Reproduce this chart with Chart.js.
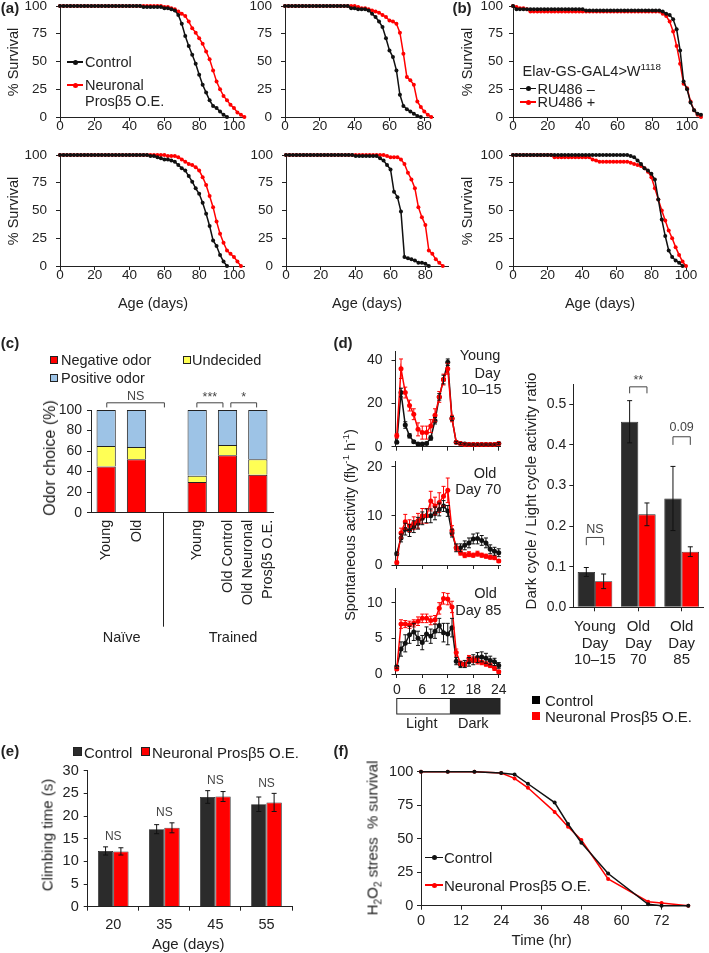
<!DOCTYPE html>
<html>
<head>
<meta charset="utf-8">
<title>Neuronal Prosβ5 figure</title>
<script src="https://cdn.jsdelivr.net/npm/chart.js@4.4.1/dist/chart.umd.min.js"></script>
<style>
  body { margin: 0; background: #fff; }
  #fig { position: relative; width: 709px; height: 953px; overflow: hidden;
         font-family: "Liberation Sans", Arial, sans-serif; color: #222; }
  #fig canvas { position: absolute; }
  .t { position: absolute; white-space: nowrap; line-height: 1; }
  .t sup, .t sub { font-size: 68%; line-height: 0; }
  .mk { position: absolute; }
</style>
</head>
<body>
<div id="fig"></div>
<script>
// ---------- data ----------

// (a) top left: lifespan, control vs neuronal Prosβ5 O.E. (days, % survival)
const a1Days = [0,2,4,6,8,10,12,14,16,18,20,22,24,26,28,30,32,34,36,38,40,42,44,46,48,50,52,54,56,58,
  60,62,64,66,68,70,72,74,76,78,80,82,84,86,88,90,92,94,96,98,100,102,104,106];
const a1Ctrl = [100,100,100,100,100,100,100,100,100,100,100,100,100,100,100,100,100,100,100,100,100,100,100,100,
  99,99,99,99,99,99,98,98,97,96,92,84,73,64,56,48,38,29,22,15,10,8,5,2,0];
const a1Oe = [100,100,100,100,100,100,100,100,100,100,100,100,100,100,100,100,100,100,100,100,
  100,100,100,100,100,100,100,100,100,100,
  99,99,98,97,95,93,91,86,80,76,71,66,59,52,42,32,25,19,15,11,8,4,2,0];

// (a) top middle
const a2Days = [0,2,4,6,8,10,12,14,16,18,20,22,24,26,28,30,32,34,36,38,40,42,44,46,48,50,52,54,56,58,
  60,62,64,66,68,70,72,74,76,78,80,82,84];
const a2Ctrl = [100,100,100,100,100,100,100,100,100,100,100,100,100,100,100,100,100,100,100,
  98,98,97,97,97,96,93,90,86,81,71,60,54,42,20,10,7,5,3,1,0];
const a2Oe = [100,100,100,100,100,100,100,100,100,100,100,100,100,100,100,100,100,100,100,100,100,
  99,98,98,97,96,95,94,92,90,87,86,84,76,57,36,33,29,14,9,5,2,0];

// (b) top: Elav-GS-GAL4>W1118, RU486 - / +
const bDays = [0,2,4,6,8,10,12,14,16,18,20,22,24,26,28,30,32,34,36,38,40,42,44,46,48,50,52,54,56,58,
  60,62,64,66,68,70,72,74,76,78,80,82,84,86,88,90,92,94,96,98,100,102,104,106,108];
const bNoRu = [100,97,97,97,97,97,97,97,97,97,97,97,97,97,97,97,97,97,97,97,97,
  96,96,96,96,96,96,96,96,96,96,96,96,96,96,96,96,96,96,96,96,96,96,
  95,93,92,88,79,60,32,25,13,6,3,2];
const bRu = [100,99,98,98,97,95,95,95,95,95,95,95,95,95,95,95,95,95,95,95,95,95,95,95,95,95,95,95,95,95,
  95,95,95,95,95,95,95,95,95,95,95,95,
  95,93,91,86,77,64,48,30,26,14,6,2,0];

// (a) bottom left
const a3Days = [0,2,4,6,8,10,12,14,16,18,20,22,24,26,28,30,32,34,36,38,40,42,44,46,48,50,52,54,56,58,
  60,62,64,66,68,70,72,74,76,78,80,82,84,86,88,90,92,94,96,98,100,102,104];
const a3Ctrl = [100,100,100,100,100,100,100,100,100,100,100,100,100,100,100,100,100,100,100,100,
  100,100,100,100,100,100,
  99,99,98,97,96,96,95,94,91,88,86,81,76,70,65,57,47,36,23,18,10,4,0];
const a3Oe = [100,100,100,100,100,100,100,100,100,100,100,100,100,100,100,100,100,100,100,100,
  100,100,100,100,100,100,100,100,100,100,100,
  99,99,99,98,96,94,92,91,89,86,80,73,63,53,40,29,21,14,11,8,4,0];

// (a) bottom middle
const a4Days = [0,2,4,6,8,10,12,14,16,18,20,22,24,26,28,30,32,34,36,38,40,42,44,46,48,50,52,54,56,58,
  60,62,64,66,68,70,72,74,76,78,80,82,84,86,88,90,92];
const a4Ctrl = [100,100,100,100,100,100,100,100,100,100,100,100,100,100,100,100,100,100,100,100,
  99,99,99,99,99,99,99,
  97,95,91,87,67,62,49,8,7,6,5,3,3,2,0];
const a4Oe = [100,100,100,100,100,100,100,100,100,100,100,100,100,100,100,100,100,100,100,100,
  100,100,100,100,100,100,100,100,100,
  99,98,98,98,96,92,84,78,70,53,44,37,14,11,6,3,0];

// (b) bottom
const b2Days = [0,2,4,6,8,10,12,14,16,18,20,22,24,26,28,30,32,34,36,38,40,42,44,46,48,50,52,54,56,58,
  60,62,64,66,68,70,72,74,76,78,80,82,84,86,88,90,92,94,96,98,100];
const b2NoRu = [100,100,100,100,100,100,100,100,100,100,100,100,100,100,100,100,100,100,100,100,
  100,100,100,100,100,100,100,100,100,100,100,100,100,100,
  99,98,95,92,88,86,83,78,60,42,27,14,8,5,3,0];
const b2Ru = [100,100,100,100,100,100,100,100,100,100,100,100,
  98,98,98,98,98,98,98,98,98,98,98,96,95,94,94,94,94,94,94,94,94,94,
  93,92,91,90,88,85,80,70,60,50,41,32,25,17,10,4,0];

// (c) odor choice (%)
const cCats = ['Young', 'Old', '', 'Young', 'Old Control', ['Old Neuronal', 'Prosβ5 O.E.']];
const cNegative = [45, 52, null, 30, 56, 37];
const cUndecided = [20, 12, null, 6, 10, 15];
const cPositive = [35, 36, null, 64, 34, 48];

// (d) spontaneous activity per hour of the day (fly^-1 h^-1)
const dHours = [0,1,2,3,4,5,6,7,8,9,10,11,12,13,14,15,16,17,18,19,20,21,22,23,24];
const dYoungCtrl = [2,25,10,5,2.3,1.2,1.2,1.5,4,12,23,31,39,13,2,1.5,1.2,1,1,1,1,1,1,1,1.5];
const dYoungCtrlErr = [0.5,2,1.5,1,0.5,0.4,0.4,0.5,1,1.5,1.5,2,1.5,1,0.5,0.4,0.4,0.3,0.3,0.3,0.3,0.3,0.3,0.3,0.4];
const dYoungOe = [5,36,25,19,15,8,6.5,6.5,9.5,14.5,23,31,36,13,2,1.5,1,1,1,1,1,1,1,1,1.5];
const dYoungOeErr = [1,4.5,2.5,2.5,2.5,3,3,3,3,3,2.5,2.5,2.5,1.5,0.5,0.4,0.3,0.3,0.3,0.3,0.3,0.3,0.3,0.3,0.4];
const dOld70Ctrl = [2.3,5.5,7.3,7,7.8,8.5,9.5,10,10,10.5,11.3,12,11,6.5,3.5,3.5,4,4.5,5.3,5.4,5,4.5,3.2,2.8,2.5];
const dOld70CtrlErr = [0.3,0.8,1.2,1.2,1.2,1.2,1.3,1.4,1.4,1.3,1.3,1.1,1.1,0.8,0.8,0.8,0.9,1,1,1.1,1,1,0.9,0.8,0.8];
const dOld70Oe = [0.5,6.5,8.8,8,8.5,9,10,10,13,12,12.7,14,15.2,7,3.5,2.5,2,2.2,2,2.3,2,1.8,1.6,1.5,0.8];
const dOld70OeErr = [0.3,1,1.5,1.2,1.3,1.5,1.5,1.5,2,1.8,2,2,2.5,1,0.6,0.5,0.5,0.5,0.4,0.5,0.4,0.4,0.4,0.4,0.3];
const dOld85Ctrl = [1,3.5,4.3,5.5,5.9,5,4.4,5.6,5.3,6,6.8,5.8,5.6,6.5,1.8,1.3,1.4,1.7,2,2.3,2.4,2.2,1.9,1.7,1.2];
const dOld85CtrlErr = [0.2,1,1.2,1.2,1.2,1,1,1,1,1,1,1.3,1.5,1.3,0.5,0.4,0.5,0.6,0.7,0.7,0.7,0.7,0.6,0.5,0.4];
const dOld85Oe = [0.7,7,7,6.9,7.1,7.4,7.8,7.8,7.5,7.6,9.2,10.6,10.5,9.4,3,1.5,1.3,2.2,2,1.8,1.6,1.4,1.2,0.8,0.3];
const dOld85OeErr = [0.2,0.6,0.5,0.5,0.5,0.6,0.6,0.6,0.6,0.6,0.8,0.8,0.8,0.8,0.5,0.3,0.3,0.4,0.4,0.4,0.3,0.3,0.3,0.3,0.2];

// (d) dark / light activity ratio
const dRatioCats = [['Young', 'Day', '10–15'], ['Old', 'Day', '70'], ['Old', 'Day', '85']];
const dRatioCtrl = [0.087, 0.457, 0.268];
const dRatioCtrlErr = [0.011, 0.052, 0.079];
const dRatioOe = [0.064, 0.229, 0.137];
const dRatioOeErr = [0.018, 0.028, 0.012];

// (e) climbing time (s)
const eAges = ['20', '35', '45', '55'];
const eCtrl = [12.3, 17.1, 24.2, 22.6];
const eCtrlErr = [0.9, 1.0, 1.4, 1.6];
const eOe = [12.2, 17.4, 24.3, 23.0];
const eOeErr = [0.8, 1.1, 1.1, 2.0];

// (f) H2O2 stress survival
const fHours = [0, 8, 16, 24, 28, 32, 40, 44, 48, 56, 68, 72, 80];
const fCtrl = [100, 100, 100, 99, 98, 91, 77, 61, 47, 24, 1, 0, 0];
const fOe = [100, 100, 100, 99, 95, 88, 70, 59, 49, 20, 3, 2, 0];

// ---------- drawing ----------
const RED = '#ff0000', BLK = '#111111', DARK = '#2b2b2b', YEL = '#ffff55', BLUE = '#9dc3e6';
const FAMILY = '"Liberation Sans", Arial, sans-serif';
Chart.defaults.font.family = FAMILY;
Chart.defaults.color = '#222';

const fig = document.getElementById('fig');

function fixRange(min, max, step) {
  return s => {
    s.min = min; s.max = max;
    s.ticks = s.ticks.filter(t => t.value >= min - 1e-9 && t.value <= max + 1e-9 &&
      Math.abs(t.value / step - Math.round(t.value / step)) < 1e-6);
  };
}
function noPad(s) { s.paddingLeft = 0; s.paddingRight = 0; s.paddingTop = 0; s.paddingBottom = 0; }

function axis(o) {
  const a = Object.assign({}, o);
  a.border = Object.assign({ display: true, color: '#222', width: 1 }, o.border);
  a.grid = Object.assign({ drawOnChartArea: false, drawTicks: true, tickLength: 4, color: '#222', lineWidth: 1 }, o.grid);
  a.ticks = Object.assign({ color: '#222' }, o.ticks);
  return a;
}
function lin(min, max, step, size, pad, extra, tickExtra) {
  return axis(Object.assign({
    type: 'linear', min, max, afterBuildTicks: fixRange(min, max, step),
    ticks: Object.assign({ stepSize: step, includeBounds: false, font: { size }, padding: pad }, tickExtra),
  }, extra));
}

// put a chart so that its plot area lands on rect = [x0, y0, x1, y1] of the page
function chartAt(rect, m, cfg) {
  const [x0, y0, x1, y1] = rect;
  const left = Math.floor(x0 - m[3]), top = Math.floor(y0 - m[0]);
  const right = Math.ceil(x1 + m[1]), bottom = Math.ceil(y1 + m[2]);
  const cv = document.createElement('canvas');
  cv.width = right - left; cv.height = bottom - top;
  cv.style.left = left + 'px'; cv.style.top = top + 'px';
  fig.appendChild(cv);
  const o = cfg.options;
  o.responsive = false; o.animation = false; o.devicePixelRatio = 1;
  o.layout = { padding: { top: y0 - top, right: right - x1, bottom: 0, left: 0 } };
  o.plugins = Object.assign({ legend: { display: false }, tooltip: { enabled: false } }, o.plugins || {});
  o.scales.x.afterFit = s => { s.height = bottom - y1; noPad(s); };
  o.scales.y.afterFit = s => { s.width = x0 - left; noPad(s); };
  return new Chart(cv, cfg);
}

function line(xs, ys, color, r, errs) {
  return {
    data: ys.map((y, i) => ({ x: xs[i], y })), showLine: true,
    borderColor: color, backgroundColor: color, borderWidth: 1.5,
    pointRadius: r, pointHoverRadius: r, pointBorderWidth: 0, clip: false,
    errors: errs, errorColor: color, cap: 2,
  };
}
function bar(vals, color, errs) {
  return { data: vals, backgroundColor: color, borderColor: '#222', borderWidth: 0.8,
           errors: errs, errorColor: '#111', cap: 2.5 };
}

const errorBars = {
  id: 'errorBars',
  afterDatasetsDraw(chart) {
    const { ctx } = chart, y = chart.scales.y;
    chart.data.datasets.forEach((ds, i) => {
      if (!ds.errors) return;
      const meta = chart.getDatasetMeta(i);
      ctx.save();
      ctx.strokeStyle = ds.errorColor; ctx.lineWidth = 1;
      meta.data.forEach((el, j) => {
        const v = ds.data[j], e = ds.errors[j];
        const val = typeof v === 'object' ? v.y : v;
        if (val == null || !e) return;
        const t = y.getPixelForValue(val + e), b = y.getPixelForValue(Math.max(val - e, 0));
        ctx.beginPath();
        ctx.moveTo(el.x, t); ctx.lineTo(el.x, b);
        ctx.moveTo(el.x - ds.cap, t); ctx.lineTo(el.x + ds.cap, t);
        ctx.moveTo(el.x - ds.cap, b); ctx.lineTo(el.x + ds.cap, b);
        ctx.stroke();
      });
      ctx.restore();
    });
  }
};

// significance brackets / labels; a, b are category positions or g = bar group
function brackets(items, size) {
  return {
    id: 'brackets',
    afterDatasetsDraw(chart) {
      const { ctx } = chart, x = chart.scales.x, y = chart.scales.y;
      ctx.save();
      ctx.strokeStyle = '#444'; ctx.fillStyle = '#444'; ctx.lineWidth = 1;
      ctx.font = size + 'px ' + FAMILY;
      ctx.textAlign = 'center'; ctx.textBaseline = 'middle';
      items.forEach(b => {
        let xa, xb;
        if (b.g !== undefined) {
          xa = chart.getDatasetMeta(0).data[b.g].x; xb = chart.getDatasetMeta(1).data[b.g].x;
        } else { xa = x.getPixelForValue(b.a); xb = x.getPixelForValue(b.b); }
        if (b.y !== undefined) {
          const yy = y.getPixelForValue(b.y), yl = y.getPixelForValue(b.leg);
          ctx.beginPath();
          ctx.moveTo(xa, yl); ctx.lineTo(xa, yy); ctx.lineTo(xb, yy); ctx.lineTo(xb, yl);
          ctx.stroke();
        }
        ctx.fillText(b.text, (xa + xb) / 2, y.getPixelForValue(b.ty));
      });
      ctx.restore();
    }
  };
}

// vertical category labels for (c) plus the naive / trained divider
const cAxisDecor = {
  id: 'cAxisDecor',
  afterDraw(chart) {
    const { ctx } = chart, x = chart.scales.x;
    ctx.save();
    ctx.fillStyle = '#222';
    ctx.font = '14.5px ' + FAMILY;
    ctx.textAlign = 'right'; ctx.textBaseline = 'middle';
    chart.data.labels.forEach((lab, i) => {
      const lines = [].concat(lab);
      lines.forEach((t, k) => {
        ctx.save();
        ctx.translate(x.getPixelForValue(i) + (k - (lines.length - 1) / 2) * 20, x.top + 7);
        ctx.rotate(-Math.PI / 2);
        ctx.fillText(t, 0, 0);
        ctx.restore();
      });
    });
    const px = Math.round(x.getPixelForValue(1.88)) + 0.5;
    ctx.strokeStyle = '#222'; ctx.lineWidth = 1;
    ctx.beginPath(); ctx.moveTo(px, x.top); ctx.lineTo(px, x.top + 114); ctx.stroke();
    ctx.restore();
  }
};

// light / dark bar under the day-85 activity plot
const lightDark = {
  id: 'lightDark',
  afterDraw(chart) {
    const { ctx } = chart, x = chart.scales.x;
    const a = x.getPixelForValue(0), m = x.getPixelForValue(12.5), b = x.getPixelForValue(24.3);
    const top = x.top + 24.5, h = 15.5;
    ctx.save();
    ctx.fillStyle = '#262626'; ctx.fillRect(m, top, b - m, h);
    ctx.strokeStyle = '#222'; ctx.lineWidth = 1;
    ctx.strokeRect(a, top, b - a, h);
    ctx.restore();
  }
};

function txt(html, x, y, o = {}) {
  const d = document.createElement('div');
  d.className = 't';
  d.innerHTML = html;
  d.style.left = x + 'px'; d.style.top = y + 'px';
  d.style.fontSize = (o.size || 15) + 'px';
  if (o.bold) d.style.fontWeight = 'bold';
  const tx = o.align === 'l' ? '0' : o.align === 'r' ? '-100%' : '-50%';
  d.style.transform = 'translate(' + tx + ',-50%)' + (o.rot ? ' rotate(-90deg)' : '');
  fig.appendChild(d);
}
function lineKey(x0, x1, y, color) {
  const l = document.createElement('div'); l.className = 'mk';
  Object.assign(l.style, { left: x0 + 'px', top: (y - 0.75) + 'px', width: (x1 - x0) + 'px', height: '1.5px', background: color });
  const p = document.createElement('div'); p.className = 'mk';
  Object.assign(p.style, { left: ((x0 + x1) / 2 - 2.5) + 'px', top: (y - 2.5) + 'px', width: '5px', height: '5px', borderRadius: '50%', background: color });
  fig.appendChild(l); fig.appendChild(p);
}
function boxKey(x, y, s, color, border) {
  const b = document.createElement('div'); b.className = 'mk';
  Object.assign(b.style, { left: x + 'px', top: (y - s / 2) + 'px', width: s + 'px', height: s + 'px',
    background: color, boxSizing: 'border-box', border: border ? '1px solid #222' : 'none' });
  fig.appendChild(b);
}

// ----- (a) and (b) survival curves -----
function survival(rect, days, ctrl, oe, xmax, ypad) {
  return chartAt(rect, [8, 14, 40, 50], {
    type: 'scatter',
    data: { datasets: [line(days, ctrl, BLK, 2), line(days, oe, RED, 2)] },
    options: { scales: {
      x: lin(0, xmax, 20, 13.5, -3),
      y: lin(0, 100, 25, 13.5, ypad),
    } },
  });
}
survival([60, 6, 244.4, 117], a1Days, a1Ctrl, a1Oe, 106, 9);
survival([285, 6, 433, 117], a2Days, a2Ctrl, a2Oe, 85, 9);
survival([513, 6, 701, 117], bDays, bNoRu, bRu, 108, 6);
survival([60, 155, 244.4, 266], a3Days, a3Ctrl, a3Oe, 106, 9);
survival([286, 155, 448, 266], a4Days, a4Ctrl, a4Oe, 93, 9);
survival([513, 155, 686, 266], b2Days, b2NoRu, b2Ru, 100, 6);

txt('(a)', 10, 7, { bold: true });
txt('(b)', 462, 7, { bold: true });
[[13, 61.5], [13, 210.5], [467, 61.5], [467, 210.5]].forEach(p => txt('% Survival', p[0], p[1], { rot: true, size: 14.5 }));
[153, 367, 600].forEach(x => txt('Age (days)', x, 303, { size: 14.5 }));
lineKey(67, 83, 62, BLK); txt('Control', 85, 62, { align: 'l', size: 14.5 });
lineKey(67, 83, 85, RED); txt('Neuronal', 85, 85, { align: 'l', size: 14.5 });
txt('Prosβ5 O.E.', 85, 101, { align: 'l', size: 14.5 });
txt('Elav-GS-GAL4&gt;W<sup>1118</sup>', 522.5, 71, { align: 'l', size: 14.5 });
lineKey(520, 536, 88.5, BLK); txt('RU486 –', 537.5, 88.5, { align: 'l', size: 14.5 });
lineKey(520, 536, 102, RED); txt('RU486 +', 537.5, 102, { align: 'l', size: 14.5 });

// ----- (c) odor choice -----
chartAt([91, 410, 273, 512.7], [60, 10, 120, 60], {
  type: 'bar',
  data: { labels: cCats, datasets: [
    { data: cNegative, backgroundColor: RED, borderColor: '#222', borderWidth: 1 },
    { data: cUndecided, backgroundColor: YEL, borderColor: '#222', borderWidth: 1 },
    { data: cPositive, backgroundColor: BLUE, borderColor: '#222', borderWidth: 1 },
  ] },
  options: {
    datasets: { bar: { categoryPercentage: 1, barPercentage: 0.635 } },
    scales: {
      x: axis({ stacked: true, grid: { drawTicks: false }, ticks: { display: false } }),
      y: lin(0, 100, 20, 14, 5, { stacked: true }),
    },
  },
  plugins: [cAxisDecor, brackets([
    { a: 0.02, b: 1.92, y: 107, leg: 102.5, text: 'NS', ty: 113.5 },
    { a: 2.99, b: 3.85, y: 107, leg: 102.5, text: '***', ty: 112.5 },
    { a: 4.11, b: 4.96, y: 107, leg: 102.5, text: '*', ty: 112.5 },
  ], 12.5)],
});
txt('(c)', 10, 342, { bold: true });
boxKey(50, 360, 8, RED, true); txt('Negative odor', 61, 360, { align: 'l', size: 14.5 });
boxKey(183, 360, 8, YEL, true); txt('Undecided', 192, 360, { align: 'l', size: 14.5 });
boxKey(50, 378, 8, BLUE, true); txt('Positive odor', 61, 378, { align: 'l', size: 14.5 });
txt('Odor choice (%)', 50, 458, { rot: true, size: 16 });
txt('Naïve', 121.7, 637, { size: 14.5 });
txt('Trained', 233, 637, { size: 14.5 });

// ----- (d) spontaneous activity -----
function activity(rect, ctrl, ctrlErr, oe, oeErr, ymax, step, showX) {
  return chartAt(rect, [6, 8, showX ? 45 : 6, 50], {
    type: 'scatter',
    data: { datasets: [line(dHours, oe, RED, 2.5, oeErr), line(dHours, ctrl, BLK, 2.5, ctrlErr)] },
    options: { scales: {
      x: lin(-0.3, 24.3, 6, 14, 3.6, {}, { display: showX }),
      y: lin(0, ymax, step, 14, 9),
    } },
    plugins: showX ? [errorBars, lightDark] : [errorBars],
  });
}
activity([395.5, 351.4, 500, 446.7], dYoungCtrl, dYoungCtrlErr, dYoungOe, dYoungOeErr, 44, 20, false);
activity([395.5, 461.8, 500, 565], dOld70Ctrl, dOld70CtrlErr, dOld70Oe, dOld70OeErr, 21, 10, false);
activity([395.5, 588.4, 500, 674], dOld85Ctrl, dOld85CtrlErr, dOld85Oe, dOld85OeErr, 12, 5, true);

chartAt([573.3, 384, 703.3, 607.3], [60, 5, 62, 50], {
  type: 'bar',
  data: { labels: dRatioCats, datasets: [bar(dRatioCtrl, DARK, dRatioCtrlErr), bar(dRatioOe, RED, dRatioOeErr)] },
  options: {
    datasets: { bar: { categoryPercentage: 0.8, barPercentage: 1 } },
    scales: {
      x: axis({ grid: { offset: false },
        ticks: { font: { size: 15, lineHeight: 1.1 }, padding: 7.5, maxRotation: 0, minRotation: 0, autoSkip: false } }),
      y: lin(0, 0.55, 0.1, 14, 3, {}, { callback: v => v.toFixed(1) }),
    },
  },
  plugins: [errorBars, brackets([
    { g: 0, y: 0.172, leg: 0.153, text: 'NS', ty: 0.192 },
    { g: 1, y: 0.543, leg: 0.527, text: '**', ty: 0.559 },
    { g: 2, y: 0.420, leg: 0.400, text: '0.09', ty: 0.443 },
  ], 12.5)],
});
txt('(d)', 343, 342, { bold: true });
txt('Spontaneous activity (fly<sup>-1</sup> h<sup>-1</sup>)', 350, 525, { rot: true, size: 14.5 });
txt('Young', 480, 355, { size: 14.5 });
txt('Day', 487.5, 372.5, { size: 14.5 });
txt('10–15', 481.3, 388.5, { size: 14.5 });
txt('Old', 485, 472.7, { size: 14.5 });
txt('Day 70', 478.3, 488.5, { size: 14.5 });
txt('Old', 485.5, 593.3, { size: 14.5 });
txt('Day 85', 478.3, 610, { size: 14.5 });
txt('Light', 421.7, 722.7, { size: 14.5 });
txt('Dark', 473.3, 722.7, { size: 14.5 });
txt('Dark cycle / Light cycle activity ratio', 530, 491, { rot: true, size: 15 });
boxKey(532, 700, 8, '#000', false); txt('Control', 545, 700, { align: 'l' });
boxKey(532, 716, 8, RED, false); txt('Neuronal Prosβ5 O.E.', 545, 716, { align: 'l' });

// ----- (e) climbing -----
chartAt([87.7, 770.7, 292, 906.7], [20, 10, 50, 60], {
  type: 'bar',
  data: { labels: eAges, datasets: [bar(eCtrl, DARK, eCtrlErr), bar(eOe, RED, eOeErr)] },
  options: {
    datasets: { bar: { categoryPercentage: 0.6, barPercentage: 1 } },
    scales: {
      x: axis({ ticks: { font: { size: 14.5 }, padding: 6 } }),
      y: lin(0, 30, 5, 14.5, 5),
    },
  },
  plugins: [errorBars, brackets(eAges.map((_, i) => ({
    a: i, b: i, text: 'NS',
    ty: Math.max(eCtrl[i] + eCtrlErr[i], eOe[i] + eOeErr[i]) + 2.2,
  })), 12)],
});
txt('(e)', 10, 750, { bold: true });
boxKey(73, 751.7, 9, DARK, true); txt('Control', 84, 751.7, { align: 'l' });
boxKey(140.5, 751.7, 9, RED, true); txt('Neuronal Prosβ5 O.E.', 152, 751.7, { align: 'l' });
txt('Climbing time (s)', 46.7, 835, { rot: true });
txt('Age (days)', 188.3, 943.3);

// ----- (f) H2O2 stress -----
chartAt([421, 771.7, 688.3, 905.7], [8, 14, 45, 60], {
  type: 'scatter',
  data: { datasets: [line(fHours, fCtrl, BLK, 2), line(fHours, fOe, RED, 2)] },
  options: { scales: {
    x: lin(0, 80, 12, 14.5, 2.6),
    y: lin(0, 100, 25, 14.5, 3.7),
  } },
});
txt('(f)', 341, 750, { bold: true });
lineKey(425, 443, 857.3, BLK); txt('Control', 444, 857.3, { align: 'l' });
lineKey(425, 443, 885, RED); txt('Neuronal Prosβ5 O.E.', 444, 885, { align: 'l' });
txt('Time (hr)', 541.7, 939.3);
txt('H<sub>2</sub>O<sub>2</sub> stress&nbsp; % survival', 371.7, 838, { rot: true });
</script>
</body>
</html>
